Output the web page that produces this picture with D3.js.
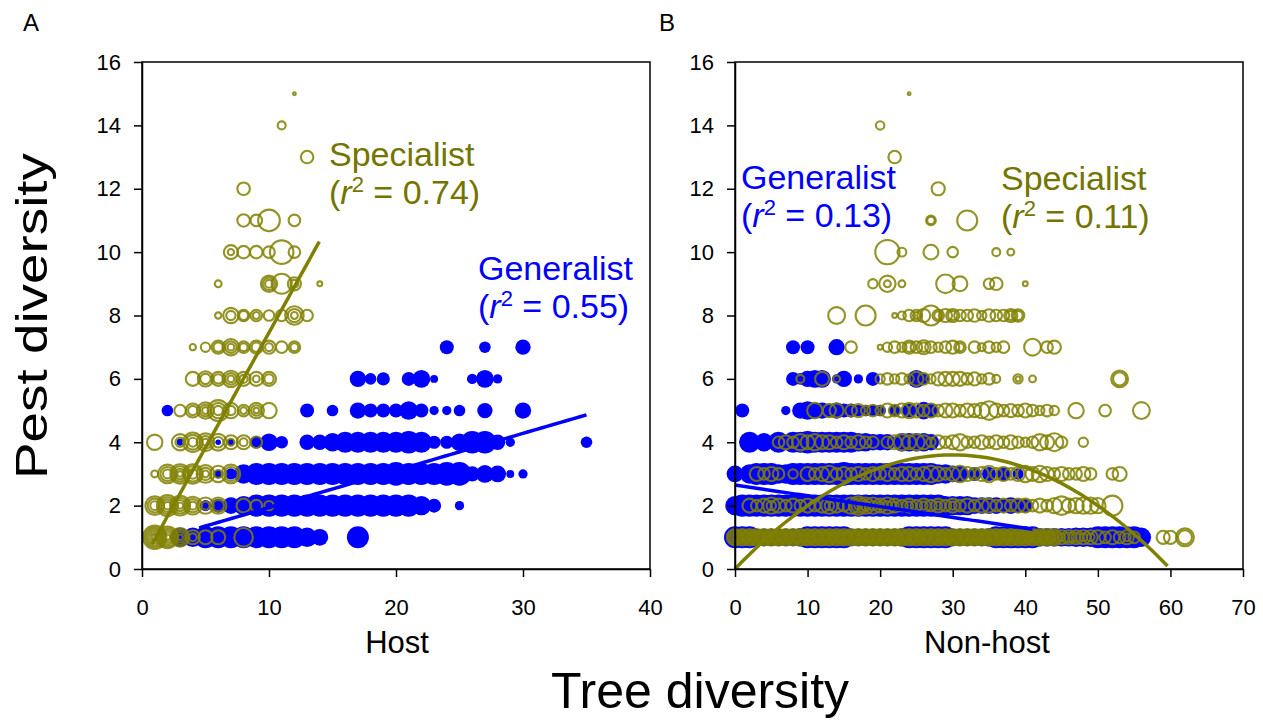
<!DOCTYPE html>
<html>
<head>
<meta charset="utf-8">
<script src="https://cdn.jsdelivr.net/npm/d3@7"></script>
<style>
body { margin: 0; background: #fff; }
text { font-family: Arial, "Liberation Sans", sans-serif; }
</style>
</head>
<body>
<div id="chart"></div>
<script>
// [tree diversity, pest diversity, number of plots]
var hostGeneralist = [
    [3,1,48],[4,1,48],[5,1,62],[6,1,62],[7,1,62],[8,1,62],[9,1,62],[10,1,62],[11,1,62],[12,1,62],[13,1,48],[14,1,36],[17,1,62],
    [5,2,16],[6,2,25],[7,2,36],[8,2,48],[9,2,62],[10,2,62],[11,2,62],[12,2,62],[13,2,62],[14,2,62],[15,2,62],[16,2,62],[17,2,62],[18,2,62],[19,2,62],[20,2,62],[21,2,62],[22,2,48],[23,2,25],[25,2,11],
    [6,3,9],[7,3,16],[8,3,48],[9,3,62],[10,3,62],[11,3,62],[12,3,62],[13,3,62],[14,3,62],[15,3,62],[16,3,62],[17,3,62],[18,3,62],[19,3,62],[20,3,72],[21,3,62],[22,3,62],[23,3,62],[24,3,72],[25,3,72],[26,3,30],[27,3,40],[28,3,36],[29,3,8],[30,3,11],
    [3,4,6],[6,4,4],[7,4,6],[9,4,20],[10,4,40],[11,4,20],[13,4,30],[14,4,30],[15,4,44],[16,4,56],[17,4,56],[18,4,56],[19,4,56],[20,4,56],[21,4,66],[22,4,56],[23,4,22],[24,4,22],[25,4,40],[26,4,66],[27,4,66],[28,4,30],[29,4,11],[35,4,17],
    [2,5,17],[13,5,25],[15,5,17],[17,5,34],[18,5,25],[19,5,25],[20,5,25],[21,5,44],[22,5,25],[23,5,11],[24,5,11],[25,5,17],[27,5,30],[30,5,34],
    [17,6,34],[18,6,17],[19,6,22],[21,6,25],[22,6,40],[23,6,8],[26,6,14],[27,6,40],[28,6,11],
    [24,7,25],[27,7,17],[30,7,30]
];

var hostSpecialist = [
    [1,1,70],[1,1,50],[1,1,34],[1,1,20],[1,1,9],[1,1,3],[2,1,60],[2,1,42],[2,1,26],[2,1,13],[2,1,4],[3,1,44],[3,1,28],[3,1,14],[3,1,4],[4,1,25],[4,1,8],[5,1,25],[6,1,25],[8,1,44],
    [1,2,44],[1,2,25],[1,2,10],[2,2,56],[2,2,36],[2,2,20],[2,2,7],[3,2,50],[3,2,32],[3,2,16],[3,2,5],[4,2,40],[4,2,22],[4,2,8],[5,2,34],[5,2,8],[6,2,34],[6,2,17],[8,2,25],[9,2,17],[10,2,11],
    [1,3,6],[2,3,44],[2,3,25],[2,3,10],[3,3,48],[3,3,30],[3,3,14],[3,3,4],[4,3,48],[4,3,30],[4,3,12],[5,3,40],[5,3,20],[5,3,6],[6,3,34],[6,3,8],[7,3,44],[7,3,25],
    [1,4,30],[3,4,34],[3,4,11],[4,4,48],[4,4,28],[4,4,10],[5,4,40],[5,4,20],[5,4,6],[6,4,36],[6,4,14],[7,4,25],[7,4,6],[8,4,25],[8,4,8],[9,4,17],
    [3,5,17],[4,5,25],[4,5,11],[5,5,34],[5,5,17],[5,5,6],[6,5,56],[6,5,30],[6,5,11],[7,5,30],[7,5,11],[8,5,17],[8,5,6],[9,5,30],[9,5,14],[9,5,4],[10,5,30],
    [4,6,25],[5,6,30],[5,6,14],[6,6,25],[6,6,11],[7,6,34],[7,6,17],[7,6,6],[8,6,25],[8,6,8],[9,6,25],[9,6,6],[10,6,25],[10,6,11],
    [4,7,5],[5,7,11],[6,7,22],[6,7,11],[7,7,34],[7,7,17],[7,7,6],[8,7,17],[8,7,8],[9,7,22],[9,7,11],[10,7,22],[10,7,8],[11,7,17],[12,7,17],[12,7,8],
    [6,8,5],[7,8,30],[7,8,11],[8,8,17],[8,8,10],[9,8,17],[9,8,6],[10,8,14],[11,8,17],[12,8,44],[12,8,22],[12,8,6],[13,8,17],
    [6,9,6],[10,9,34],[10,9,20],[10,9,8],[11,9,51],[12,9,22],[12,9,8],[14,9,3],
    [7,10,25],[7,10,5],[8,10,20],[9,10,20],[10,10,17],[11,10,70],[12,10,17],
    [8,11,20],[9,11,17],[10,11,60],[12,11,17],
    [8,12,20],[13,13,20],[11,14,8],[12,15,1]
];

var nonhostGeneralist = [
    [0,1,62],[1,1,62],[2,1,62],[3,1,40],[4,1,40],[5,1,40],[6,1,40],[7,1,40],[8,1,40],[9,1,44],[10,1,62],[11,1,62],[12,1,62],[13,1,62],[14,1,62],[15,1,62],[16,1,40],[17,1,40],[18,1,40],[19,1,40],[20,1,40],[21,1,40],[22,1,40],[23,1,44],[24,1,62],[25,1,62],[26,1,62],[27,1,62],[28,1,62],[29,1,62],[30,1,40],[31,1,40],[32,1,40],[33,1,40],[34,1,40],[35,1,44],[36,1,62],[37,1,62],[38,1,62],[39,1,62],[40,1,62],[41,1,62],[42,1,44],[43,1,44],[44,1,44],[45,1,44],[46,1,44],[47,1,48],[48,1,48],[49,1,48],[50,1,62],[51,1,62],[52,1,62],[53,1,62],[54,1,62],[55,1,62],[56,1,48],
    [0,2,48],[1,2,62],[2,2,62],[3,2,62],[4,2,62],[5,2,62],[6,2,62],[7,2,62],[8,2,62],[9,2,62],[10,2,62],[11,2,62],[12,2,62],[13,2,62],[14,2,62],[15,2,62],[16,2,62],[17,2,62],[18,2,62],[19,2,62],[20,2,62],[21,2,62],[22,2,62],[23,2,62],[24,2,62],[25,2,62],[26,2,62],[27,2,62],[28,2,62],[29,2,48],[30,2,48],[31,2,48],[32,2,48],[33,2,36],[34,2,36],[35,2,36],[36,2,36],[37,2,25],[38,2,36],[39,2,25],[40,2,25],
    [0,3,36],[2,3,48],[3,3,62],[4,3,62],[5,3,62],[6,3,48],[7,3,48],[8,3,62],[9,3,62],[10,3,62],[11,3,62],[12,3,62],[13,3,62],[14,3,62],[15,3,72],[16,3,62],[17,3,62],[18,3,62],[19,3,62],[20,3,62],[21,3,62],[22,3,62],[23,3,62],[24,3,62],[25,3,62],[26,3,62],[27,3,62],[28,3,48],[29,3,48],[30,3,36],[31,3,36],[33,3,25],[35,3,25],[37,3,25],[39,3,16],
    [2,4,56],[4,4,44],[6,4,56],[8,4,56],[9,4,56],[10,4,66],[11,4,56],[12,4,56],[13,4,56],[14,4,56],[15,4,56],[16,4,56],[17,4,44],[18,4,44],[19,4,34],[20,4,34],[21,4,34],[23,4,44],[24,4,44],[25,4,44],[26,4,44],[27,4,34],
    [1,5,25],[7,5,11],[9,5,34],[10,5,44],[11,5,34],[12,5,34],[13,5,25],[14,5,34],[15,5,25],[16,5,25],[17,5,17],[18,5,17],[19,5,17],[20,5,17],[22,5,17],[24,5,25],[26,5,40],[27,5,25],
    [8,6,25],[9,6,17],[10,6,34],[11,6,40],[12,6,40],[14,6,11],[15,6,34],[17,6,11],[19,6,25],[25,6,40],[26,6,17],
    [8,7,25],[10,7,25],[14,7,34]
];

var nonhostSpecialist = [
    [0,1,34],[0,1,22],[0,1,12],[0,1,4],[1,1,34],[1,1,22],[1,1,12],[1,1,4],[2,1,34],[2,1,22],[2,1,12],[2,1,4],[3,1,34],[3,1,22],[3,1,12],[3,1,4],[4,1,34],[4,1,22],[4,1,12],[4,1,4],
    [5,1,34],[5,1,22],[5,1,12],[5,1,4],[6,1,34],[6,1,22],[6,1,12],[6,1,4],[7,1,34],[7,1,22],[7,1,12],[7,1,4],[8,1,34],[8,1,22],[8,1,12],[8,1,4],[9,1,34],[9,1,22],[9,1,12],[9,1,4],
    [10,1,34],[10,1,22],[10,1,12],[10,1,4],[11,1,34],[11,1,22],[11,1,12],[11,1,4],[12,1,34],[12,1,22],[12,1,12],[12,1,4],[13,1,34],[13,1,22],[13,1,12],[13,1,4],[14,1,34],[14,1,22],[14,1,12],[14,1,4],
    [15,1,34],[15,1,22],[15,1,12],[15,1,4],[16,1,34],[16,1,22],[16,1,12],[16,1,4],[17,1,34],[17,1,22],[17,1,12],[17,1,4],[18,1,34],[18,1,22],[18,1,12],[18,1,4],[19,1,34],[19,1,22],[19,1,12],[19,1,4],
    [20,1,34],[20,1,22],[20,1,12],[20,1,4],[21,1,34],[21,1,22],[21,1,12],[21,1,4],[22,1,34],[22,1,22],[22,1,12],[22,1,4],[23,1,34],[23,1,22],[23,1,12],[23,1,4],[24,1,34],[24,1,22],[24,1,12],[24,1,4],
    [25,1,34],[25,1,22],[25,1,12],[25,1,4],[26,1,34],[26,1,22],[26,1,12],[26,1,4],[27,1,34],[27,1,22],[27,1,12],[27,1,4],[28,1,34],[28,1,22],[28,1,12],[28,1,4],[29,1,34],[29,1,22],[29,1,12],[29,1,4],
    [30,1,34],[30,1,22],[30,1,12],[30,1,4],[31,1,34],[31,1,22],[31,1,12],[31,1,4],[32,1,34],[32,1,22],[32,1,12],[32,1,4],[33,1,34],[33,1,22],[33,1,12],[33,1,4],[34,1,34],[34,1,22],[34,1,12],[34,1,4],
    [35,1,34],[35,1,22],[35,1,12],[35,1,4],[36,1,34],[36,1,22],[36,1,12],[36,1,4],[37,1,34],[37,1,22],[37,1,12],[37,1,4],[38,1,34],[38,1,22],[38,1,12],[38,1,4],[39,1,34],[39,1,22],[39,1,12],[39,1,4],
    [40,1,34],[40,1,22],[40,1,12],[40,1,4],[41,1,34],[41,1,22],[41,1,12],[41,1,4],[42,1,34],[42,1,22],[42,1,12],[42,1,4],[43,1,34],[43,1,22],[43,1,12],[43,1,4],[44,1,34],[44,1,22],[44,1,12],[44,1,4],
    [45,1,25],[45,1,8],[46,1,25],[46,1,12],[47,1,25],[47,1,11],[48,1,25],[48,1,8],[49,1,25],[49,1,8],[50,1,25],[51,1,17],[52,1,25],[53,1,17],[54,1,25],[54,1,8],[55,1,17],[59,1,22],[60,1,22],[62,1,41],[62,1,25],
    [2,2,25],[3,2,17],[4,2,25],[5,2,34],[5,2,11],[6,2,25],[7,2,17],[8,2,25],[9,2,17],[10,2,25],[11,2,17],[12,2,25],[13,2,34],[13,2,11],[14,2,25],[15,2,17],[16,2,34],[17,2,44],[17,2,25],[17,2,8],[18,2,34],[18,2,14],[19,2,34],[19,2,11],[20,2,25],[20,2,8],[21,2,34],[21,2,11],[22,2,25],[22,2,8],[23,2,17],[24,2,25],[24,2,8],[25,2,17],[26,2,25],[26,2,8],[27,2,17],[28,2,25],[28,2,8],[29,2,17],[30,2,25],[30,2,8],[31,2,17],[32,2,25],[33,2,17],[34,2,25],[35,2,25],[36,2,17],[37,2,25],[38,2,17],[39,2,25],[40,2,25],[41,2,17],[42,2,25],[43,2,17],[44,2,30],[45,2,44],[46,2,25],[47,2,30],[48,2,34],[49,2,34],[50,2,30],[52,2,51],
    [3,3,25],[4,3,17],[5,3,25],[6,3,17],[8,3,11],[10,3,25],[11,3,17],[12,3,25],[13,3,34],[14,3,17],[15,3,25],[16,3,17],[17,3,25],[18,3,17],[19,3,25],[20,3,17],[21,3,25],[22,3,17],[23,3,25],[24,3,25],[25,3,17],[26,3,25],[27,3,34],[28,3,25],[29,3,17],[30,3,25],[31,3,34],[32,3,25],[33,3,17],[34,3,25],[35,3,34],[36,3,17],[37,3,25],[38,3,17],[39,3,25],[40,3,34],[41,3,25],[42,3,34],[43,3,25],[44,3,17],[45,3,25],[46,3,17],[47,3,17],[48,3,25],[49,3,17],[52,3,17],[53,3,25],
    [6,4,17],[7,4,25],[8,4,17],[9,4,34],[10,4,25],[11,4,34],[12,4,25],[13,4,25],[14,4,17],[15,4,25],[16,4,17],[17,4,25],[18,4,17],[19,4,17],[21,4,17],[22,4,25],[23,4,34],[24,4,25],[25,4,34],[26,4,25],[27,4,11],[28,4,25],[29,4,17],[30,4,25],[31,4,34],[32,4,17],[33,4,17],[34,4,25],[35,4,17],[36,4,25],[37,4,17],[38,4,25],[39,4,17],[40,4,11],[41,4,17],[42,4,34],[43,4,25],[44,4,41],[45,4,17],[48,4,11],
    [11,5,30],[13,5,22],[14,5,25],[16,5,17],[17,5,22],[18,5,11],[19,5,17],[20,5,11],[21,5,25],[22,5,17],[23,5,25],[24,5,30],[25,5,25],[26,5,17],[27,5,25],[28,5,17],[29,5,25],[30,5,25],[31,5,17],[32,5,25],[33,5,22],[34,5,30],[35,5,44],[36,5,25],[37,5,17],[38,5,22],[39,5,17],[40,5,25],[41,5,17],[42,5,11],[43,5,17],[44,5,11],[47,5,30],[51,5,17],[56,5,36],
    [9,6,8],[12,6,25],[14,6,6],[20,6,11],[21,6,17],[22,6,11],[23,6,17],[24,6,11],[25,6,25],[26,6,17],[27,6,11],[28,6,22],[29,6,25],[30,6,25],[31,6,25],[32,6,17],[33,6,22],[34,6,11],[35,6,17],[36,6,8],[39,6,11],[39,6,3],[41,6,6],[53,6,36],[53,6,22],
    [16,7,17],[20,7,3],[21,7,11],[22,7,17],[23,7,11],[24,7,22],[24,7,11],[25,7,17],[26,7,25],[26,7,11],[27,7,17],[28,7,11],[29,7,17],[30,7,22],[31,7,17],[31,7,8],[33,7,17],[34,7,8],[35,7,17],[36,7,11],[37,7,17],[41,7,36],[43,7,17],[44,7,22],
    [14,8,36],[18,8,51],[22,8,3],[23,8,8],[24,8,17],[25,8,17],[25,8,6],[26,8,22],[27,8,51],[28,8,17],[28,8,8],[29,8,22],[30,8,22],[30,8,11],[31,8,17],[32,8,17],[33,8,20],[34,8,11],[35,8,20],[36,8,17],[37,8,17],[38,8,22],[38,8,11],[39,8,20],[39,8,11],
    [19,9,11],[21,9,34],[21,9,6],[23,9,6],[29,9,44],[31,9,28],[35,9,14],[36,9,20],[40,9,3],
    [21,10,75],[23,10,10],[27,10,28],[30,10,14],[36,10,8],[38,10,6],
    [27,11,12],[27,11,7],[32,11,51],
    [28,12,22],[22,13,20],[20,14,9],[24,15,1]
];

// fitted lines: [intercept, slope, quadratic], x range
var hostSpecialistFit = { coef: [0.21, 0.725, 0], range: [0.8, 13.96] };
var hostGeneralistFit = { coef: [0.77, 0.117, 0], range: [4.5, 35] };
var nonhostSpecialistFit = { coef: [0, 0.24, -0.004], range: [0, 59.6] };
var nonhostGeneralistFit = { coef: [2.65, -0.034, 0], range: [0, 41] };

var yTicks = [0, 2, 4, 6, 8, 10, 12, 14, 16];
var hostTicks = [0, 10, 20, 30, 40];
var nonhostTicks = [0, 10, 20, 30, 40, 50, 60, 70];

var svgWidth = 1263;
var svgHeight = 720;
var olive = "#808000";
var oliveText = "#747400";
var blue = "#0000ff";

var svg = d3.select("#chart")
    .append("svg")
    .attr("width", svgWidth)
    .attr("height", svgHeight);

var plotTop = 62;
var plotBottom = 569;

var yScale = d3.scaleLinear()
    .domain([0, 16])
    .range([plotBottom, plotTop]);

var rScale = d3.scaleSqrt()
    .domain([0, 100])
    .range([0, 14]);

function fitLine(xScale, fit)
{
    var xs = d3.range(fit.range[0], fit.range[1], (fit.range[1] - fit.range[0]) / 60).concat([fit.range[1]]);
    var line = d3.line()
        .x(d => xScale(d))
        .y(d => yScale(fit.coef[0] + fit.coef[1] * d + fit.coef[2] * d * d));
    return line(xs);
}

function annotation(g, x, y, name, r2, color)
{
    g.append("text")
        .attr("x", x)
        .attr("y", y)
        .attr("fill", color)
        .attr("font-size", 34)
        .text(name);

    var t2 = g.append("text")
        .attr("x", x)
        .attr("y", y + 38)
        .attr("fill", color)
        .attr("font-size", 34);
    t2.append("tspan").text("(");
    t2.append("tspan").attr("font-style", "italic").text("r");
    t2.append("tspan").attr("font-size", 22).attr("dy", -12).text("2");
    t2.append("tspan").attr("dy", 12).text(" = " + r2 + ")");
}

function drawPanel(left, xMax, xTicks, generalist, specialist, genFit, specFit)
{
    var xScale = d3.scaleLinear()
        .domain([0, xMax])
        .range([left, left + 508]);

    var g = svg.append("g");

    g.append("g")
        .selectAll("circle")
        .data(generalist)
        .enter()
        .append("circle")
        .attr("cx", d => xScale(d[0]))
        .attr("cy", d => yScale(d[1]))
        .attr("r", d => rScale(d[2]))
        .attr("fill", blue);

    g.append("g")
        .selectAll("circle")
        .data(specialist)
        .enter()
        .append("circle")
        .attr("cx", d => xScale(d[0]))
        .attr("cy", d => yScale(d[1]))
        .attr("r", d => rScale(d[2]))
        .attr("fill", "none")
        .attr("stroke", olive)
        .attr("stroke-opacity", 0.85)
        .attr("stroke-width", 2.1);

    g.append("path")
        .attr("d", fitLine(xScale, genFit))
        .attr("fill", "none")
        .attr("stroke", blue)
        .attr("stroke-width", 3.5);

    g.append("path")
        .attr("d", fitLine(xScale, specFit))
        .attr("fill", "none")
        .attr("stroke", olive)
        .attr("stroke-width", 3.5);

    // frame
    g.append("rect")
        .attr("x", left)
        .attr("y", plotTop)
        .attr("width", 508)
        .attr("height", plotBottom - plotTop)
        .attr("fill", "none")
        .attr("stroke", "#000")
        .attr("stroke-width", 1.5);

    var xAxis = g.append("g")
        .attr("transform", `translate(0, ${plotBottom})`)
        .call(d3.axisBottom(xScale).tickValues(xTicks).tickSize(8).tickSizeOuter(0).tickPadding(22));

    var yAxis = g.append("g")
        .attr("transform", `translate(${left}, 0)`)
        .call(d3.axisLeft(yScale).tickValues(yTicks).tickSize(8).tickSizeOuter(0).tickPadding(13));

    [xAxis, yAxis].forEach(ax =>
    {
        ax.selectAll("path, line").attr("stroke", "#000").attr("stroke-width", 1.5);
        ax.selectAll("text")
            .attr("font-size", 22)
            .attr("font-family", "Arial, 'Liberation Sans', sans-serif")
            .attr("fill", "#000");
    });

    return g;
}

var gA = drawPanel(142, 40, hostTicks, hostGeneralist, hostSpecialist, hostGeneralistFit, hostSpecialistFit);
var gB = drawPanel(735, 70, nonhostTicks, nonhostGeneralist, nonhostSpecialist, nonhostGeneralistFit, nonhostSpecialistFit);

annotation(gA, 329, 166, "Specialist", "0.74", oliveText);
annotation(gA, 478, 280, "Generalist", "0.55", blue);
annotation(gB, 741, 189, "Generalist", "0.13", blue);
annotation(gB, 1001, 190, "Specialist", "0.11", oliveText);

svg.append("text").attr("x", 23).attr("y", 31).attr("font-size", 24).text("A");
svg.append("text").attr("x", 659).attr("y", 31).attr("font-size", 24).text("B");

svg.append("text")
    .attr("x", 397)
    .attr("y", 653)
    .attr("text-anchor", "middle")
    .attr("font-size", 31)
    .text("Host");

svg.append("text")
    .attr("x", 987)
    .attr("y", 653)
    .attr("text-anchor", "middle")
    .attr("font-size", 31)
    .text("Non-host");

svg.append("text")
    .attr("x", 700)
    .attr("y", 708)
    .attr("text-anchor", "middle")
    .attr("font-size", 50)
    .text("Tree diversity");

svg.append("text")
    .attr("transform", "translate(47, 316) rotate(-90)")
    .attr("text-anchor", "middle")
    .attr("font-size", 44)
    .attr("textLength", 326)
    .attr("lengthAdjust", "spacingAndGlyphs")
    .text("Pest diversity");
</script>
</body>
</html>
